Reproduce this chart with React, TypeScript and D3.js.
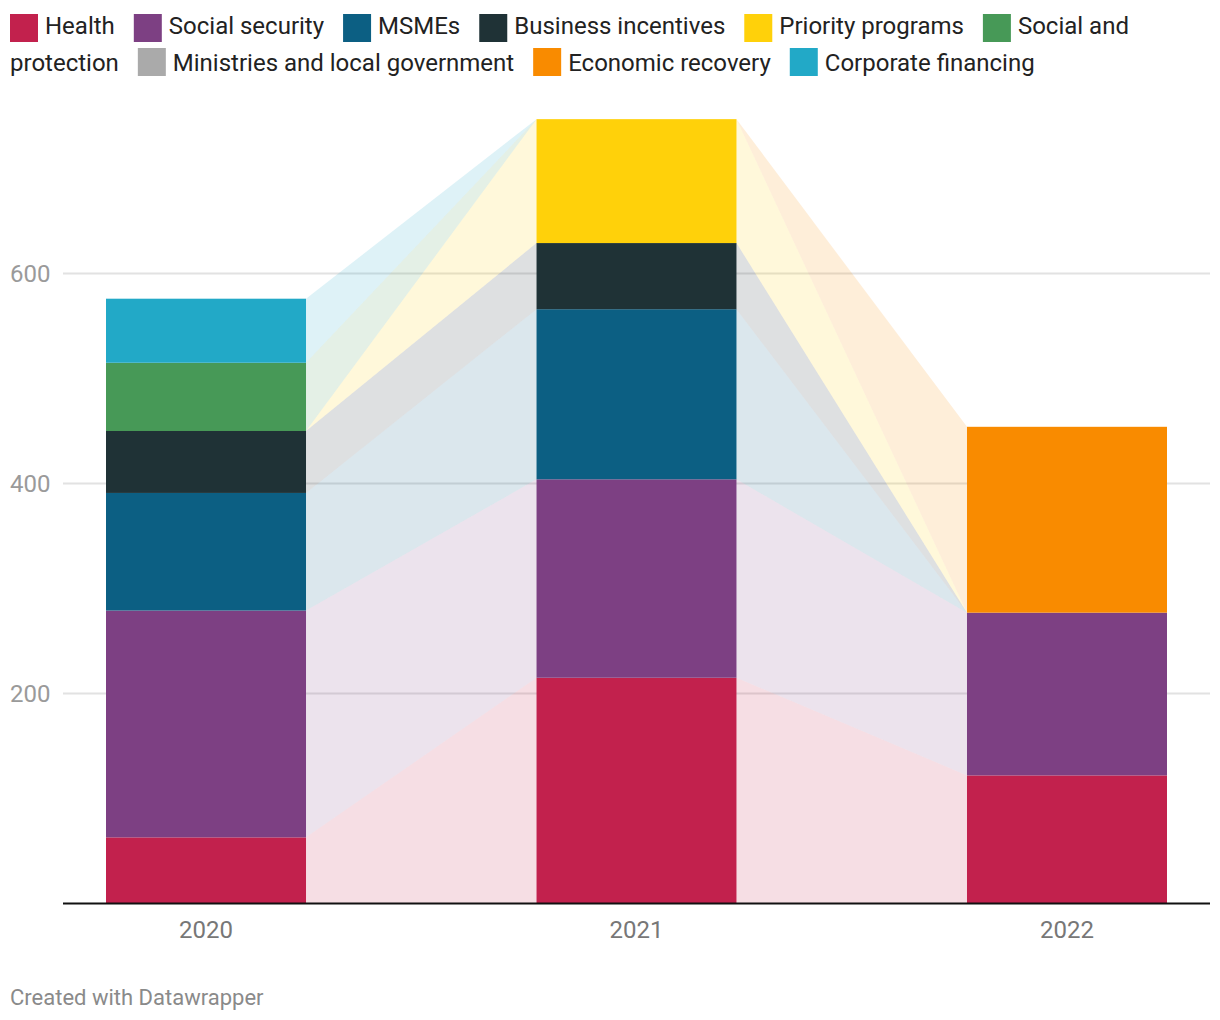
import React, { useMemo } from "react";
import * as d3 from "d3";

const years = ["2020", "2021", "2022"];
const seriesNames = [
  "Health",
  "Social security",
  "MSMEs",
  "Business incentives",
  "Priority programs",
  "Social and protection",
  "Ministries and local government",
  "Economic recovery",
  "Corporate financing",
];
const seriesColors = [
  "#c2214d",
  "#7d4083",
  "#0c5f83",
  "#1f3236",
  "#ffd10a",
  "#479957",
  "#aaaaaa",
  "#f98b00",
  "#22a9c7",
];
const health = [63, 215, 122];
const socialSecurity = [216, 189, 155];
const msmes = [112, 162, 0];
const businessIncentives = [59, 63, 0];
const priorityPrograms = [0, 118, 0];
const socialProtection = [65, 0, 0];
const ministries = [0, 0, 0];
const economicRecovery = [0, 0, 177];
const corporateFinancing = [61, 0, 0];
const yTicks = [200, 400, 600];
const credit = "Created with Datawrapper";

const seriesValues = [
  health,
  socialSecurity,
  msmes,
  businessIncentives,
  priorityPrograms,
  socialProtection,
  ministries,
  economicRecovery,
  corporateFinancing,
];

const W = 1220;
const H = 1020;
const FONT = "Roboto, 'Noto Sans', sans-serif";
const LEG_FS = 24;

function measure(text: string, size: number) {
  const c = document.createElement("canvas");
  const ctx = c.getContext("2d")!;
  ctx.font = `${size}px Roboto`;
  return ctx.measureText(text).width;
}

export default function App() {
  document.body.style.margin = "0";
  const rows = years.map((y, j) => {
    const r: any = { year: y };
    seriesNames.forEach((n, i) => (r[n] = seriesValues[i][j]));
    return r;
  });
  const stacked = d3.stack<any>().keys(seriesNames)(rows);

  const x = d3.scaleBand().domain(years).range([106, 1167]).paddingInner(0.5354).paddingOuter(0);
  const y = d3.scaleLinear().domain([0, 600]).range([903.5, 273.5]);
  const bw = x.bandwidth();

  const SQ = 28;
  const SQGAP = 7;
  const ITEMGAP = 19;
  const legend = useMemo(() => {
    const items: any[] = [];
    const left = 10;
    const maxX = 1210;
    let cx = left;
    let row = 0;
    const space = measure(" ", LEG_FS);
    seriesNames.forEach((name, i) => {
      const words = name.split(" ");
      const firstW = measure(words[0], LEG_FS);
      if (cx + SQ + SQGAP + firstW > maxX) {
        row++;
        cx = left;
      }
      items.push({ type: "sq", x: cx, row, color: seriesColors[i] });
      cx += SQ + SQGAP;
      let seg = "";
      let segX = cx;
      words.forEach((w) => {
        const ww = measure(w, LEG_FS);
        const add = seg ? space + ww : ww;
        if (seg && cx + add > maxX) {
          items.push({ type: "tx", x: segX, row, text: seg });
          row++;
          cx = left;
          segX = cx;
          seg = w;
          cx += ww;
        } else {
          seg = seg ? seg + " " + w : w;
          cx += add;
        }
      });
      items.push({ type: "tx", x: segX, row, text: seg });
      cx += ITEMGAP;
    });
    return items;
  }, []);

  return (
    <svg width={W} height={H} style={{ display: "block", fontFamily: FONT }}>
      <rect width={W} height={H} fill="#fff" />
      {legend.map((it, k) =>
        it.type === "sq" ? (
          <rect key={k} x={it.x} y={14 + it.row * 34} width={SQ} height={SQ} fill={it.color} />
        ) : (
          <text key={k} x={it.x} y={34 + it.row * 36.5} fontSize={LEG_FS} fill="#222">
            {it.text}
          </text>
        )
      )}
      {yTicks.map((t) => (
        <g key={t}>
          <line x1={63} x2={1210} y1={y(t)} y2={y(t)} stroke="#e2e2e2" strokeWidth={2} />
          <text x={10} y={y(t)} dy="0.35em" fontSize={24} fill="#9a9a9a">
            {t}
          </text>
        </g>
      ))}
      {stacked.map((s, i) =>
        years.slice(0, -1).map((yr, j) => {
          const a = s[j];
          const b = s[j + 1];
          const x0 = (x(yr) as number) + bw;
          const x1 = x(years[j + 1]) as number;
          const path = d3.path();
          path.moveTo(x0, y(a[1]));
          path.lineTo(x1, y(b[1]));
          path.lineTo(x1, y(b[0]));
          path.lineTo(x0, y(a[0]));
          path.closePath();
          return (
            <path key={`b${i}-${j}`} d={path.toString()} fill={seriesColors[i]} fillOpacity={0.15} />
          );
        })
      )}
      {stacked.map((s, i) =>
        s.map((d, j) =>
          d[1] - d[0] > 0 ? (
            <rect
              key={`r${i}-${j}`}
              x={x(years[j])}
              y={y(d[1])}
              width={bw}
              height={y(d[0]) - y(d[1])}
              fill={seriesColors[i]}
            />
          ) : null
        )
      )}
      <line x1={63} x2={1210} y1={y(0)} y2={y(0)} stroke="#111" strokeWidth={2} />
      {years.map((yr) => (
        <text
          key={yr}
          x={(x(yr) as number) + bw / 2}
          y={930}
          dy="0.35em"
          textAnchor="middle"
          fontSize={24}
          fill="#777"
        >
          {yr}
        </text>
      ))}
      <text x={10} y={997} dy="0.35em" fontSize={22} fill="#8a8a8a">
        {credit}
      </text>
    </svg>
  );
}
